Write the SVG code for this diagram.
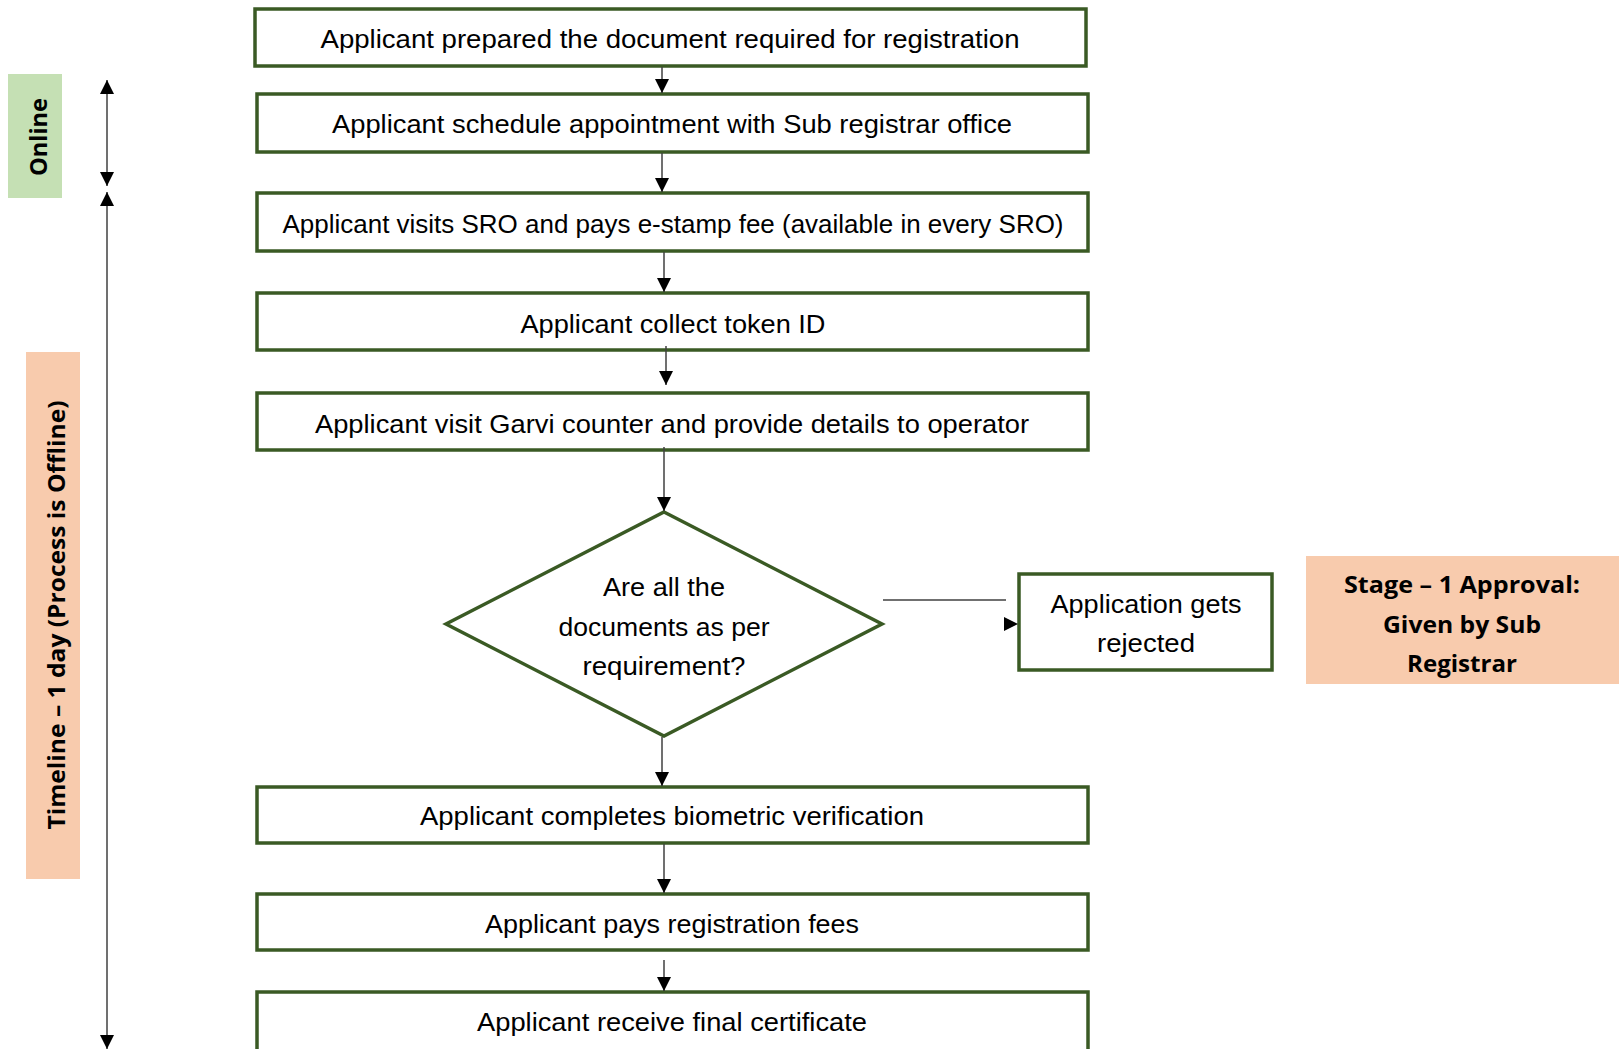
<svg xmlns="http://www.w3.org/2000/svg" width="1619" height="1049" viewBox="0 0 1619 1049">
<style>
.box{fill:#fff;stroke:#3a5a24;stroke-width:3.5}
.t{font-family:"Liberation Sans",Arial,sans-serif;font-size:26px;fill:#000;text-anchor:middle;dominant-baseline:central}
.b{font-family:"Open Sans","Liberation Sans",sans-serif;font-weight:bold;font-size:23px;fill:#000;text-anchor:middle;dominant-baseline:central}
.c{stroke:#404040;stroke-width:1.5;fill:none}
</style>
<defs>
<marker id="ah" viewBox="0 0 10 10" refX="10" refY="5" markerWidth="14" markerHeight="14" markerUnits="userSpaceOnUse" orient="auto-start-reverse">
<path d="M0,0 L10,5 L0,10 z" fill="#000"/>
</marker>
</defs>
<rect width="1619" height="1049" fill="#fff"/>
<g id="online-label">
<rect x="8" y="74" width="54" height="124" fill="#c5e0b4"/>
<text class="b" transform="translate(38,137) rotate(-90)" textLength="78" lengthAdjust="spacingAndGlyphs">Online</text>
</g>
<g id="timeline-label">
<rect x="26" y="352" width="54" height="527" fill="#f8cbad"/>
<text class="b" transform="translate(56,615) rotate(-90)" textLength="429" lengthAdjust="spacingAndGlyphs">Timeline – 1 day (Process is Offline)</text>
</g>
<g id="stage-label">
<rect x="1306" y="556" width="313" height="128" fill="#f8cbad"/>
<text class="b" x="1462" y="584" textLength="236" lengthAdjust="spacingAndGlyphs">Stage – 1 Approval:</text>
<text class="b" x="1462" y="624" textLength="158" lengthAdjust="spacingAndGlyphs">Given by Sub</text>
<text class="b" x="1462" y="663" textLength="110" lengthAdjust="spacingAndGlyphs">Registrar</text>
</g>
<g id="n1"><rect class="box" x="255" y="9" width="831" height="57"/><text class="t" x="670" y="39" textLength="699" lengthAdjust="spacingAndGlyphs">Applicant prepared the document required for registration</text></g>
<g id="n2"><rect class="box" x="257" y="94" width="831" height="58"/><text class="t" x="672" y="124" textLength="680" lengthAdjust="spacingAndGlyphs">Applicant schedule appointment with Sub registrar office</text></g>
<g id="n3"><rect class="box" x="257" y="193" width="831" height="58"/><text class="t" x="673" y="224" textLength="781" lengthAdjust="spacingAndGlyphs">Applicant visits SRO and pays e-stamp fee (available in every SRO)</text></g>
<g id="n4"><rect class="box" x="257" y="293" width="831" height="57"/><text class="t" x="673" y="324" textLength="305" lengthAdjust="spacingAndGlyphs">Applicant collect token ID</text></g>
<g id="n5"><rect class="box" x="257" y="393" width="831" height="57"/><text class="t" x="672" y="424" textLength="714" lengthAdjust="spacingAndGlyphs">Applicant visit Garvi counter and provide details to operator</text></g>
<g id="n6"><polygon class="box" points="664,512 882,624 664,736 446,624"/>
<text class="t" x="664" y="587" textLength="122" lengthAdjust="spacingAndGlyphs">Are all the</text>
<text class="t" x="664" y="627" textLength="211" lengthAdjust="spacingAndGlyphs">documents as per</text>
<text class="t" x="664" y="666" textLength="163" lengthAdjust="spacingAndGlyphs">requirement?</text></g>
<g id="n7"><rect class="box" x="1019" y="574" width="253" height="96"/>
<text class="t" x="1146" y="604" textLength="191" lengthAdjust="spacingAndGlyphs">Application gets</text>
<text class="t" x="1146" y="643" textLength="98" lengthAdjust="spacingAndGlyphs">rejected</text></g>
<g id="n8"><rect class="box" x="257" y="787" width="831" height="56"/><text class="t" x="672" y="816" textLength="504" lengthAdjust="spacingAndGlyphs">Applicant completes biometric verification</text></g>
<g id="n9"><rect class="box" x="257" y="894" width="831" height="56"/><text class="t" x="672" y="924" textLength="374" lengthAdjust="spacingAndGlyphs">Applicant pays registration fees</text></g>
<g id="n10"><rect class="box" x="257" y="992" width="831" height="60"/><text class="t" x="672" y="1022" textLength="390" lengthAdjust="spacingAndGlyphs">Applicant receive final certificate</text></g>
<g id="connectors">
<line class="c" x1="662" y1="67" x2="662" y2="93" marker-end="url(#ah)"/>
<line class="c" x1="662" y1="153" x2="662" y2="192" marker-end="url(#ah)"/>
<line class="c" x1="664" y1="252" x2="664" y2="292" marker-end="url(#ah)"/>
<line class="c" x1="666" y1="346" x2="666" y2="385" marker-end="url(#ah)"/>
<line class="c" x1="664" y1="447" x2="664" y2="511" marker-end="url(#ah)"/>
<line class="c" x1="662" y1="737" x2="662" y2="786" marker-end="url(#ah)"/>
<line class="c" x1="664" y1="844" x2="664" y2="893" marker-end="url(#ah)"/>
<line class="c" x1="664" y1="960" x2="664" y2="991" marker-end="url(#ah)"/>
<line class="c" x1="883" y1="600" x2="1006" y2="600"/>
<polygon points="1004,617 1018,624 1004,631" fill="#000"/>
<line class="c" x1="107" y1="80" x2="107" y2="186" marker-start="url(#ah)" marker-end="url(#ah)"/>
<line class="c" x1="107" y1="192" x2="107" y2="1049" marker-start="url(#ah)" marker-end="url(#ah)"/>
</g>
</svg>
